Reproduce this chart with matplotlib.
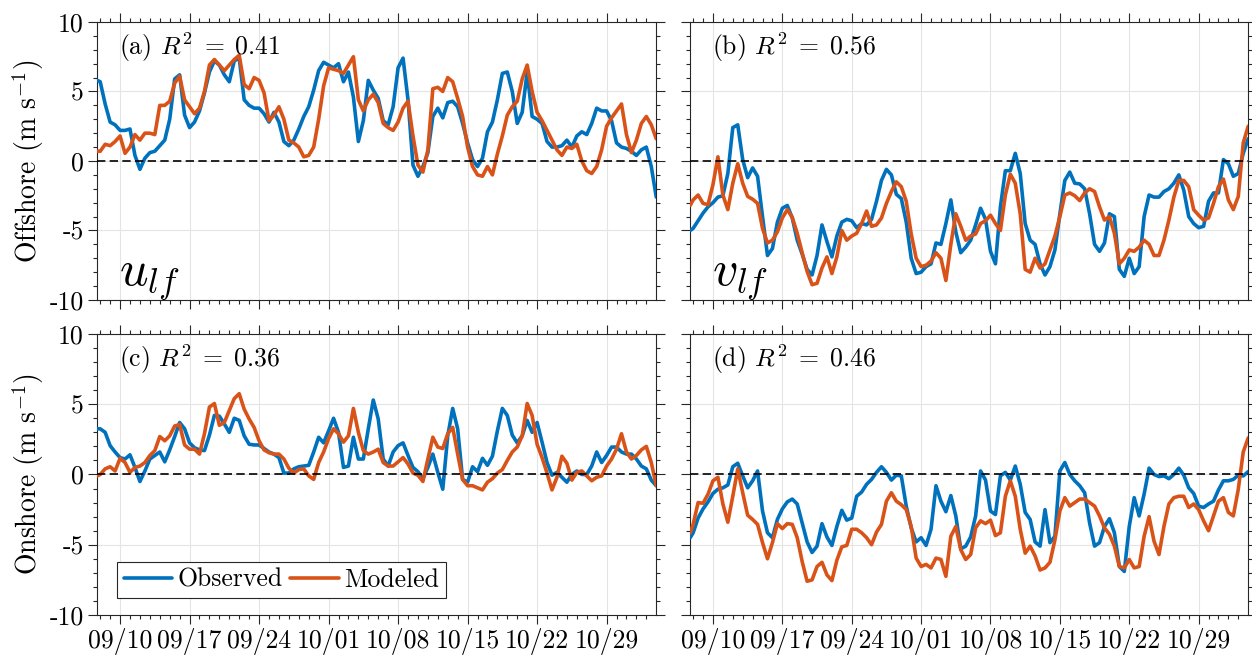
import numpy as np
import matplotlib
matplotlib.use("Agg")
import matplotlib.pyplot as plt
import matplotlib.dates as mdates
from matplotlib.ticker import MultipleLocator

plt.rcParams["font.family"] = "serif"
plt.rcParams["font.serif"] = ["cmr10"]
plt.rcParams["mathtext.fontset"] = "cm"
plt.rcParams["axes.unicode_minus"] = False
plt.rcParams["axes.formatter.use_mathtext"] = True

# time axis: days after 2022-09-10, half-day samples
start = np.datetime64("2022-09-10T00:00")
days = np.concatenate([[-2.3], np.arange(-2.0, 54.01, 0.5)])
tick_labels = ["09/10", "09/17", "09/24", "10/01", "10/08", "10/15", "10/22", "10/29"]

# (a) offshore u_lf
ua_obs = [5.8, 5.7, 4.1, 2.8, 2.6, 2.2, 2.2, 2.3, 0.4, -0.6,
          0.2, 0.6, 0.7, 1.1, 1.5, 3.0, 5.9, 6.2, 3.3, 2.4,
          2.8, 3.6, 4.9, 6.4, 7.2, 6.9, 6.2, 5.7, 7.2, 7.4,
          4.4, 4.0, 3.8, 3.8, 3.4, 2.8, 3.5, 2.8, 1.4, 1.1,
          1.5, 2.3, 3.2, 3.9, 5.1, 6.5, 7.1, 6.9, 6.7, 7.0,
          5.7, 6.4, 4.6, 1.4, 2.9, 5.8, 5.1, 4.5, 2.9, 2.6,
          3.9, 6.7, 7.4, 4.4, -0.3, -1.1, -0.4, 0.6, 3.2, 3.8,
          3.1, 4.2, 4.3, 3.9, 2.7, 1.3, 0.1, -0.4, 0.2, 2.1,
          2.8, 4.4, 6.3, 6.4, 5.0, 2.7, 3.5, 6.4, 3.2, 3.0,
          2.7, 1.4, 1.0, 1.0, 1.1, 1.5, 1.0, 1.8, 2.1, 1.9,
          2.7, 3.8, 3.6, 3.6, 2.9, 1.3, 1.0, 0.9, 0.7, 0.4,
          0.8, 1.0, -0.4, -2.6]
ua_mod = [0.7, 0.7, 1.2, 1.1, 1.4, 1.8, 0.55, 1.0, 1.9, 1.5,
          2.0, 2.0, 1.9, 4.0, 4.0, 4.3, 5.6, 6.1, 4.4, 3.9,
          3.4, 3.8, 5.0, 6.9, 7.3, 6.9, 6.5, 6.9, 7.3, 7.6,
          5.5, 5.2, 6.0, 5.8, 4.9, 2.9, 3.3, 3.9, 3.0, 1.5,
          1.3, 1.0, 0.3, 0.4, 1.0, 3.0, 5.4, 6.7, 6.6, 6.5,
          6.3, 6.9, 7.5, 4.4, 3.6, 4.4, 4.8, 4.2, 2.7, 2.4,
          2.2, 2.8, 3.8, 4.3, 1.8, -0.3, -0.8, 0.8, 5.2, 5.3,
          5.0, 6.0, 5.7, 4.5, 3.2, 1.0, -0.4, -1.0, -1.1, -0.4,
          -1.0, 0.5, 1.8, 3.3, 3.9, 4.3, 5.9, 6.9, 5.0, 3.5,
          2.9, 2.2, 1.5, 0.8, 0.4, 1.0, 0.9, 1.2, 0.0, -0.7,
          -0.9, -0.4, 0.8, 2.5, 3.1, 3.6, 4.1, 1.9, 0.6, 1.5,
          2.7, 3.2, 2.6, 1.6]

# (b) offshore v_lf
vb_obs = [-5.0, -4.85, -4.3, -3.75, -3.3, -3.0, -2.6, -2.5, -0.9, 2.4,
          2.6, 0.1, -1.2, -0.5, -1.1, -4.0, -6.8, -6.3, -4.4, -3.4,
          -3.2, -4.1, -5.7, -6.7, -7.8, -8.2, -6.8, -4.6, -5.8, -6.9,
          -5.4, -4.4, -4.2, -4.3, -4.8, -4.5, -4.6, -4.2, -2.9, -1.4,
          -0.6, -1.0, -2.4, -2.7, -4.4, -7.0, -8.1, -8.0, -7.6, -7.4,
          -5.9, -6.0, -4.5, -2.8, -5.1, -6.6, -6.2, -5.7, -4.6, -3.4,
          -4.2, -6.5, -7.4, -3.3, -0.7, -0.7, 0.55, -0.9, -4.5, -5.7,
          -6.0, -7.4, -8.2, -7.6, -6.4, -3.8, -1.4, -0.8, -1.6, -1.65,
          -2.0, -3.8, -6.0, -6.5, -5.9, -3.8, -4.0, -7.8, -8.3, -7.0,
          -8.1, -7.6, -4.0, -2.45, -2.6, -2.6, -2.2, -2.0, -1.6, -1.0,
          -2.1, -4.0, -4.5, -4.8, -4.7, -2.9, -2.3, -2.3, 0.1, -0.2,
          -1.1, -0.9, 0.55, 1.6]
vb_mod = [-3.2, -2.8, -2.45, -3.05, -3.15, -1.7, 0.3, -2.45, -3.5, -1.6,
          -0.2, -1.6, -2.55, -2.75, -3.05, -4.85, -5.9, -5.7, -5.1, -4.1,
          -3.5, -4.05, -5.2, -6.6, -7.95, -8.9, -8.8, -7.7, -6.9, -8.1,
          -6.9, -5.0, -5.7, -5.4, -5.2, -4.5, -3.6, -4.7, -4.6, -4.1,
          -3.05, -2.2, -1.5, -1.85, -2.9, -5.25, -7.0, -7.6, -7.5, -7.2,
          -6.6, -7.0, -8.6, -6.0, -3.8, -4.7, -5.7, -5.4, -5.25, -4.5,
          -4.3, -3.9, -4.5, -5.0, -2.45, -0.95, -1.6, -3.8, -7.8, -8.0,
          -7.0, -7.7, -7.4, -6.4, -5.4, -4.0, -2.45, -2.3, -2.5, -2.85,
          -2.3, -2.0, -2.2, -3.3, -4.25, -4.0, -5.2, -7.4, -7.0, -6.4,
          -6.5, -6.2, -5.7, -6.0, -6.8, -6.8, -5.7, -4.25, -2.6, -1.4,
          -1.4, -1.85, -3.5, -3.9, -4.25, -4.1, -3.05, -1.85, -1.3, -2.8,
          -3.5, -2.55, 1.3, 2.5]

# (c) onshore u_lf
uc_obs = [3.25, 3.25, 3.0, 2.05, 1.6, 1.2, 1.1, 1.4, 0.5, -0.5,
          0.25, 1.1, 1.35, 1.6, 0.9, 1.75, 2.7, 3.7, 3.25, 2.25,
          1.9, 1.75, 1.7, 2.8, 4.2, 4.15, 3.6, 3.0, 4.0, 3.85,
          2.75, 2.15, 2.1, 2.1, 1.85, 1.6, 1.45, 1.2, 0.1, 0.1,
          0.4, 0.55, 0.6, 0.65, 1.6, 2.65, 2.25, 3.1, 4.0, 3.0,
          0.5, 0.6, 2.65, 1.1, 1.1, 3.25, 5.3, 3.95, 1.1, 0.6,
          1.6, 2.05, 2.25, 1.35, 0.5, 0.2, -0.3, 0.5, 1.45, 0.15,
          -1.05, 2.75, 4.7, 3.25, -0.35, -0.55, 0.55, 0.2, 1.15, 0.65,
          1.3, 3.1, 4.7, 4.2, 2.8, 2.25, 2.75, 3.85, 3.0, 3.7,
          2.3, 0.85, -0.05, 0.15, -0.2, -0.55, 0.0, 0.25, 0.0, 0.0,
          0.6, 1.6, 0.85, 1.35, 1.95, 1.95, 1.6, 1.45, 1.45, 1.1,
          0.6, 0.4, -0.4, -0.8]
uc_mod = [-0.1, 0.0, 0.4, 0.55, 0.25, 1.15, 0.85, 0.15, 0.5, 0.6,
          0.85, 1.35, 1.7, 2.7, 2.4, 2.75, 3.45, 3.55, 2.1, 1.8,
          1.8, 1.45, 2.9, 4.8, 5.05, 3.5, 3.7, 4.55, 5.4, 5.75,
          4.65, 3.95, 3.35, 2.4, 1.75, 1.55, 1.45, 1.45, 1.1, 0.45,
          0.1, 0.35, 0.4, -0.1, -0.35, 0.85, 1.6, 2.55, 3.25, 2.9,
          2.3, 2.75, 4.7, 3.0, 1.7, 1.45, 1.6, 1.8, 0.85, 0.6,
          0.6, 0.9, 1.2, 0.75, 0.1, -0.05, -0.5, 1.1, 2.65, 1.95,
          1.85, 2.9, 3.35, 1.45, -0.35, -0.8, -0.8, -0.95, -1.1, -0.55,
          -0.3, 0.1, 0.35, 1.0, 1.6, 1.95, 2.75, 5.05, 4.2, 2.15,
          1.2, 0.1, -1.1, -0.2, 1.3, 0.8, -0.4, 0.15, 0.25, -0.1,
          -0.45, -0.2, -0.1, 0.6, 1.1, 1.8, 2.9, 1.6, 1.1, 1.35,
          1.75, 2.0, 0.85, -0.8]

# (d) onshore v_lf
vd_obs = [-4.5, -4.15, -3.1, -2.45, -1.95, -1.35, -1.05, -0.95, -0.75, 0.55,
          0.8, -0.1, -0.95, -0.45, 0.25, -2.6, -4.15, -4.5, -3.2, -2.45,
          -1.95, -1.75, -2.1, -3.45, -4.8, -5.55, -5.1, -3.5, -4.45, -5.05,
          -3.7, -2.55, -3.25, -3.1, -1.55, -1.25, -0.7, -0.35, 0.15, 0.55,
          0.15, -0.4, -0.05, -0.1, -2.25, -3.8, -4.8, -4.5, -5.05, -3.9,
          -0.8, -1.9, -2.65, -1.5, -2.95, -5.3, -5.1, -4.45, -2.95, 0.25,
          -0.4, -2.6, -2.85, -0.1, 0.15, -0.4, 0.6, -0.7, -2.7, -3.2,
          -4.8, -5.1, -2.5, -4.85, -4.4, 0.25, 0.85, 0.0, -0.45, -0.8,
          -1.3, -3.45, -5.1, -4.85, -3.7, -3.15, -4.15, -6.55, -6.9, -3.7,
          -1.65, -2.95, -1.4, 0.45, 0.0, -0.15, -0.1, -0.3, 0.0, 0.45,
          -0.05, -0.95, -1.35, -2.25, -2.35, -2.1, -1.9, -1.1, -0.45, -0.45,
          -0.35, -0.05, -0.1, 0.2]
vd_mod = [-4.15, -3.55, -2.0, -2.05, -1.4, -0.45, -0.2, -2.1, -3.4, -1.55,
          0.4, -1.3, -2.9, -3.2, -3.55, -4.85, -6.0, -4.85, -3.5, -3.85,
          -3.5, -3.55, -4.5, -6.2, -7.6, -7.5, -6.55, -6.25, -7.15, -7.55,
          -6.1, -5.15, -5.05, -3.9, -3.9, -4.15, -4.5, -5.0, -4.1, -3.55,
          -1.9, -1.3, -1.9, -2.15, -2.5, -3.7, -5.95, -6.55, -6.4, -6.65,
          -5.95, -6.05, -7.25, -4.4, -3.7, -5.35, -6.05, -5.7, -3.8, -3.3,
          -3.5, -3.25, -4.35, -4.15, -1.55, -0.45, -1.55, -3.9, -5.6, -5.1,
          -5.8, -6.8, -6.65, -6.25, -4.65, -2.6, -1.65, -2.25, -2.0, -1.75,
          -1.75, -2.0, -2.25, -2.95, -3.8, -4.25, -5.1, -6.55, -6.65, -6.05,
          -6.65, -6.55, -4.4, -3.0, -4.75, -5.7, -3.7, -2.1, -1.65, -1.55,
          -1.55, -2.35, -2.1, -2.5, -3.3, -4.0, -2.95, -1.9, -1.65, -2.7,
          -2.95, -1.05, 1.6, 2.6]

panel_r2 = ["0.41", "0.56", "0.36", "0.46"]
panel_letters = ["a", "b", "c", "d"]
panel_vars = ["$u_{lf}$", "$v_{lf}$", None, None]
row_labels = ["Offshore (m s$^{-1}$)", "Onshore (m s$^{-1}$)"]

blue = "#0072BD"
orange = "#D95319"
axcol = "#262626"


def to_time(d):
    return start + (np.asarray(d) * 24 * 60).astype("timedelta64[m]")


t = to_time(days)
tick_dates = [np.datetime64("2022-" + s.replace("/", "-")) for s in tick_labels]

fig = plt.figure(figsize=(12.52, 6.6), dpi=100)
rects = [[0.0775, 0.5455, 0.4465, 0.4212], [0.5511, 0.5455, 0.4457, 0.4212],
         [0.0775, 0.0682, 0.4465, 0.4258], [0.5511, 0.0682, 0.4457, 0.4258]]
series = [(ua_obs, ua_mod), (vb_obs, vb_mod), (uc_obs, uc_mod), (vd_obs, vd_mod)]

axes = []
for i, rect in enumerate(rects):
    ax = fig.add_axes(rect)
    obs, mod = series[i]
    ax.plot(t, obs, color=blue, lw=2.6, label="Observed", zorder=3,
            solid_joinstyle="round", solid_capstyle="round")
    ax.plot(t, mod, color=orange, lw=2.6, label="Modeled", zorder=3,
            solid_joinstyle="round", solid_capstyle="round")
    ax.axhline(0, color="k", lw=1.2, dashes=(5, 2.6), zorder=4)

    ax.set_xlim(to_time(-2.32), to_time(53.98))
    ax.set_ylim(-10, 10)
    ax.set_xticks(tick_dates)
    ax.xaxis.set_minor_locator(mdates.DayLocator())
    ax.set_yticks([-10, -5, 0, 5, 10])
    ax.yaxis.set_minor_locator(MultipleLocator(1))
    ax.grid(True, which="major", color="#e4e4e4", lw=0.8)
    ax.set_axisbelow(True)

    ax.tick_params(which="both", direction="out", top=True, right=True,
                   color=axcol, width=0.8, labelsize=18.5)
    ax.tick_params(which="major", length=6.5, pad=3)
    ax.tick_params(which="minor", length=3)
    for sp in ax.spines.values():
        sp.set_color(axcol)
        sp.set_linewidth(0.8)

    if i < 2:
        ax.tick_params(labelbottom=False)
    else:
        ax.set_xticklabels(tick_labels)
    if i % 2 == 1:
        ax.tick_params(labelleft=False)
    else:
        ax.set_yticklabels(["-10", "-5", "0", "5", "10"])

    ax.text(0.04, 0.968, r"(%s) $R^2\;=\;%s$" % (panel_letters[i], panel_r2[i]),
            transform=ax.transAxes, ha="left", va="top", fontsize=18.5)
    if panel_vars[i]:
        ax.text(0.04, 0.055, panel_vars[i], transform=ax.transAxes,
                ha="left", va="baseline", fontsize=36)
    axes.append(ax)

leg = axes[2].legend(loc="lower left", bbox_to_anchor=(0.036, 0.06), ncol=2,
                     fontsize=18.5, fancybox=False, framealpha=1,
                     edgecolor=axcol, handlelength=1.9, handletextpad=0.2,
                     columnspacing=0.3, borderpad=0.25, borderaxespad=0)
leg.get_frame().set_linewidth(0.8)

fig.text(0.0224, 0.756, row_labels[0], rotation=90, ha="center", va="center", fontsize=20)
fig.text(0.0224, 0.281, row_labels[1], rotation=90, ha="center", va="center", fontsize=20)

fig.savefig("out.png", dpi=100)
